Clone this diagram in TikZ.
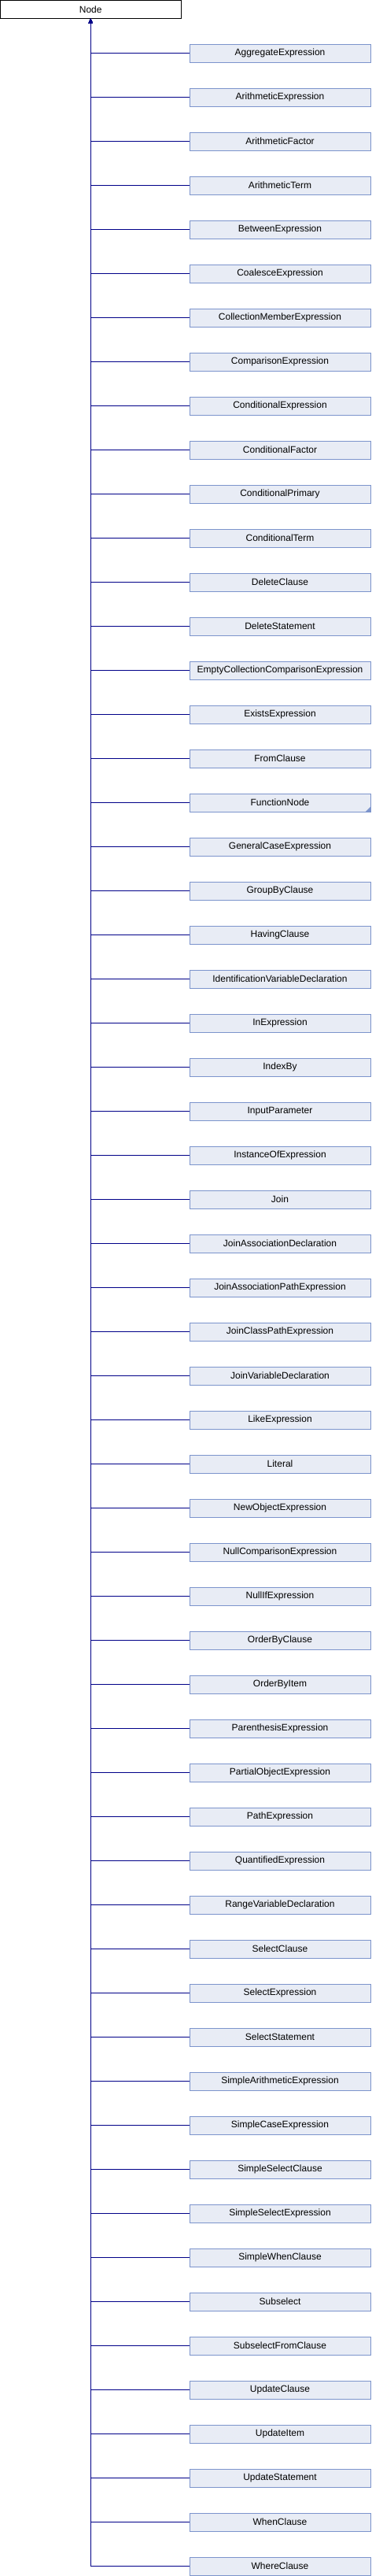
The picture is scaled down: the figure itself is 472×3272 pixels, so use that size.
\documentclass[tikz,border=0pt]{standalone}
\usepackage{fontspec}
\setmainfont{Liberation Sans}
\usetikzlibrary{arrows.meta}
\definecolor{boxfill}{HTML}{E8ECF5}
\definecolor{boxline}{HTML}{7C94CC}
\definecolor{edgecol}{HTML}{000088}
\tikzset{
  cls/.style={draw=boxline, fill=boxfill, line width=0.9pt, minimum width=230pt, minimum height=23pt, inner sep=0pt, font=\fontsize{12}{14}\selectfont},
  rootcls/.style={draw=black, fill=white, line width=0.9pt, minimum width=229.5pt, minimum height=23pt, inner sep=0pt, font=\fontsize{12}{14}\selectfont},
  edge/.style={draw=edgecol, line width=0.9pt, -{Triangle[width=5pt,length=6pt]}}
}
\begin{document}
\begin{tikzpicture}[x=1pt,y=-1pt]
\useasboundingbox (0,0) rectangle (472,3272);
\node[rootcls] (root) at (115.25,11.75) {Node};
\foreach \name [count=\i] in {AggregateExpression,ArithmeticExpression,ArithmeticFactor,ArithmeticTerm,BetweenExpression,CoalesceExpression,CollectionMemberExpression,ComparisonExpression,ConditionalExpression,ConditionalFactor,ConditionalPrimary,ConditionalTerm,DeleteClause,DeleteStatement,EmptyCollectionComparisonExpression,ExistsExpression,FromClause,FunctionNode,GeneralCaseExpression,GroupByClause,HavingClause,IdentificationVariableDeclaration,InExpression,IndexBy,InputParameter,InstanceOfExpression,Join,JoinAssociationDeclaration,JoinAssociationPathExpression,JoinClassPathExpression,JoinVariableDeclaration,LikeExpression,Literal,NewObjectExpression,NullComparisonExpression,NullIfExpression,OrderByClause,OrderByItem,ParenthesisExpression,PartialObjectExpression,PathExpression,QuantifiedExpression,RangeVariableDeclaration,SelectClause,SelectExpression,SelectStatement,SimpleArithmeticExpression,SimpleCaseExpression,SimpleSelectClause,SimpleSelectExpression,SimpleWhenClause,Subselect,SubselectFromClause,UpdateClause,UpdateItem,UpdateStatement,WhenClause,WhereClause}{
  \node[cls] (c\i) at (356,{67.5+56*(\i-1)}) {\name};
  \draw[edge] (c\i.west) -| (root.south);
}
\fill[boxline] (c18.south east) -- ++(0,-7) -- ++(-7,7) -- cycle;
\end{tikzpicture}
\end{document}
